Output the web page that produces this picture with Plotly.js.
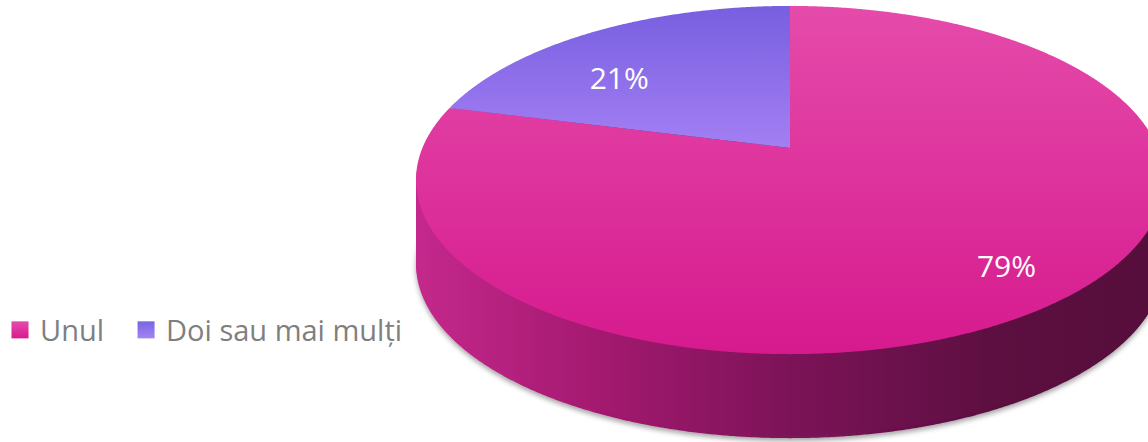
<!DOCTYPE html>
<html><head><meta charset="utf-8">
<script src="https://cdn.plot.ly/plotly-3.0.1.min.js"></script>
<style>html,body{margin:0;padding:0;background:#fff;overflow:hidden}#chart{width:1148px;height:442px}</style>
</head><body><div id="chart"></div>
<script>
// ---- data ----
const labels = ['Unul', 'Doi sau mai mulți'];
const values = [79, 21];
const sliceColors = ['#DE2C9B', '#9373EC'];
const sideColors = ['#8A1562', '#5A2A8A'];

// ---- geometry / style ----
const W = 1148, H = 442;
const R = 200;                 // radius of the flat pie drawn by Plotly
const CX = 790, CY0 = 221;     // its centre
// perspective view of the disc: x = CX + A*u/w, y = Y0 - B*v/w, w = 1 + K*v
const A = 367.6, B = 168.2, K = 0.184, Y0 = 148;
const DEPTH = 84, STEP = 3;
const LABEL_POS = [{r: 0.81, da: -2.3}, {r: 0.68, da: -10}];   // radius fraction, angle offset (deg)
const LEGEND_SHIFT = [0, 17];
const FONT = '"Open Sans", "Noto Sans", sans-serif';
const dom = {x: [(CX - R) / W, (CX + R) / W], y: [(H - CY0 - R) / H, (H - CY0 + R) / H]};

const traces = [];
const offsets = [];
for (let d = DEPTH; d > 0; d -= STEP) {
  offsets.push(d);
  traces.push({type: 'pie', labels: labels, values: values, sort: false, direction: 'clockwise',
    domain: dom, textinfo: 'none', hoverinfo: 'skip', showlegend: false,
    marker: {colors: sideColors, line: {width: 0}}});
}
offsets.push(0);
traces.push({type: 'pie', labels: labels, values: values, sort: false, direction: 'clockwise',
  domain: dom, textinfo: 'percent', textposition: 'inside', insidetextorientation: 'horizontal',
  textfont: {color: '#ffffff', size: 30, family: FONT}, hoverinfo: 'skip',
  marker: {colors: sliceColors, line: {width: 0}}});

const layout = {
  width: W, height: H, margin: {l: 0, r: 0, t: 0, b: 0},
  paper_bgcolor: '#ffffff', plot_bgcolor: '#ffffff',
  showlegend: true,
  legend: {orientation: 'h', x: 0.0, xanchor: 'left', y: 1 - 330 / H, yanchor: 'middle',
    font: {family: FONT, size: 29, color: '#7F7F7F'}, bgcolor: 'rgba(0,0,0,0)'}
};

Plotly.newPlot('chart', traces, layout, {staticPlot: true}).then(function (gd) {
  const NS = 'http://www.w3.org/2000/svg';
  const svg = gd.querySelector('.main-svg');
  let defs = svg.querySelector('defs');
  if (!defs) { defs = document.createElementNS(NS, 'defs'); svg.insertBefore(defs, svg.firstChild); }
  function grad(id, vertical, stops) {
    const g = document.createElementNS(NS, 'linearGradient');
    g.setAttribute('id', id);
    g.setAttribute('x1', '0'); g.setAttribute('y1', '0');
    g.setAttribute('x2', vertical ? '0' : '1'); g.setAttribute('y2', vertical ? '1' : '0');
    stops.forEach(function (s) {
      const st = document.createElementNS(NS, 'stop');
      st.setAttribute('offset', s[0]); st.setAttribute('stop-color', s[1]);
      g.appendChild(st);
    });
    defs.appendChild(g);
  }
  grad('gSide', false, [[0, '#C4288C'], [0.25, '#A3196F'], [0.5, '#7C1358'], [0.78, '#5C0F40'], [1, '#560E3C']]);
  grad('gTop0', true, [[0, '#E54BAA'], [1, '#D61A8E']]);
  grad('gTop1', true, [[0, '#775FE0'], [1, '#A47FF3']]);
  grad('gLeg0', true, [[0, '#E64AAE'], [1, '#D81B8E']]);
  grad('gLeg1', true, [[0, '#7766E4'], [1, '#A384F2']]);
  const f = document.createElementNS(NS, 'filter');
  f.setAttribute('id', 'shadow'); f.setAttribute('x', '-10%'); f.setAttribute('y', '-10%');
  f.setAttribute('width', '120%'); f.setAttribute('height', '130%');
  const ds = document.createElementNS(NS, 'feDropShadow');
  ds.setAttribute('dx', '0'); ds.setAttribute('dy', '3'); ds.setAttribute('stdDeviation', '2.5');
  ds.setAttribute('flood-color', '#000'); ds.setAttribute('flood-opacity', '0.35');
  f.appendChild(ds); defs.appendChild(f);

  const traceGs = gd.querySelectorAll('.pielayer .trace');
  const bb = traceGs[0].getBBox();
  const ucx = bb.x + bb.width / 2, ucy = bb.y + bb.height / 2, ur = bb.width / 2;
  const ctm = traceGs[0].getScreenCTM();
  function proj(u, v, d) {
    const w = 1 + K * v;
    return [CX + A * u / w - ctm.e, Y0 + d - B * v / w - ctm.f];
  }
  const total = values.reduce(function (s, v) { return s + v; }, 0);
  traceGs.forEach(function (g, i) {
    const d = offsets[i];
    const isTop = (d === 0);
    let cum = 0;
    g.querySelectorAll('g.slice').forEach(function (sl, k) {
      const p = sl.querySelector('path.surface');
      if (p) {
        const L = p.getTotalLength();
        const n = Math.ceil(L);
        const pts = [];
        for (let j = 0; j <= n; j++) {
          const q = p.getPointAtLength(L * j / n);
          const xy = proj((q.x - ucx) / ur, -(q.y - ucy) / ur, d);
          pts.push(xy[0].toFixed(2) + ',' + xy[1].toFixed(2));
        }
        p.setAttribute('d', 'M' + pts.join('L') + 'Z');
        p.style.fill = isTop ? 'url(#gTop' + k + ')' : 'url(#gSide)';
        if (i === 0) p.setAttribute('filter', 'url(#shadow)');
      }
      if (isTop) {
        const lp = LABEL_POS[k];
        const mid = 2 * Math.PI * (cum + values[k] / 2) / total + lp.da * Math.PI / 180;
        const tgt = proj(lp.r * Math.sin(mid), lp.r * Math.cos(mid), 0);
        sl.querySelectorAll('.slicetext text').forEach(function (t) {
          const rc = t.getBoundingClientRect();
          const x0 = rc.left + rc.width / 2 - ctm.e, y0 = rc.top + rc.height / 2 - ctm.f;
          const old = t.getAttribute('transform') || '';
          t.setAttribute('transform', 'translate(' + (tgt[0] - x0) + ',' + (tgt[1] - y0) + ') ' + old);
        });
      }
      cum += values[k];
    });
  });
  gd.querySelectorAll('.legend [clip-path]').forEach(function (el) { el.removeAttribute('clip-path'); });
  gd.querySelectorAll('.legend .traces').forEach(function (tr, k) {
    const oldT = tr.getAttribute('transform') || '';
    tr.setAttribute('transform', oldT + ' translate(' + LEGEND_SHIFT[k] + ',0)');
    const p = tr.querySelector('.legendpoints path');
    if (p) {
      const old = p.getAttribute('transform') || '';
      p.setAttribute('transform', old + ' scale(1.42)');
      p.style.fill = 'url(#gLeg' + k + ')';
    }
  });
});
</script>
</body></html>
